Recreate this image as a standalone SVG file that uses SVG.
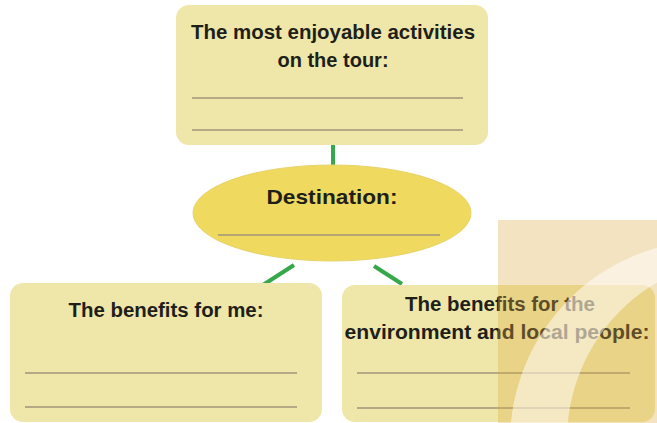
<svg xmlns="http://www.w3.org/2000/svg" width="657" height="423" viewBox="0 0 657 423">
  <style>
    .box { fill: #efe7a9; }
    .oval { fill: #efd95f; stroke: #e6d368; stroke-width: 1; }
    .lbl { font-family: "Liberation Sans", Arial, sans-serif; font-weight: bold; font-size: 20px; fill: #1f1f1a; text-anchor: middle; }
    .rule { stroke: #a09479; stroke-width: 1.5; }
    .link { stroke: #35a84a; stroke-width: 4; fill: none; }
  </style>
  <defs>
    <clipPath id="wmclip"><rect x="498" y="220" width="159" height="203"/></clipPath>
  </defs>
  <rect width="657" height="423" fill="#ffffff"/>

  <g id="connectors">
    <line class="link" x1="333" y1="144" x2="333" y2="167"/>
    <line class="link" x1="263" y1="285" x2="294" y2="265"/>
    <line class="link" x1="374" y1="266" x2="402" y2="284"/>
  </g>

  <g id="node-activities">
    <rect class="box" x="176" y="5" width="312" height="140" rx="13"/>
    <text class="lbl" x="333" y="39" textLength="284" lengthAdjust="spacingAndGlyphs">The most enjoyable activities</text>
    <text class="lbl" x="333" y="67">on the tour:</text>
    <line class="rule" x1="192" y1="98" x2="463" y2="98"/>
    <line class="rule" x1="192" y1="130" x2="463" y2="130"/>
  </g>

  <g id="node-destination">
    <ellipse class="oval" cx="332" cy="213" rx="139" ry="48"/>
    <text class="lbl" x="332" y="204" style="font-size:21px" textLength="131" lengthAdjust="spacingAndGlyphs">Destination:</text>
    <line class="rule" x1="218" y1="235" x2="440" y2="235"/>
  </g>

  <g id="node-benefits-me">
    <rect class="box" x="10" y="283" width="312" height="139" rx="13"/>
    <text class="lbl" x="166" y="317" textLength="195" lengthAdjust="spacingAndGlyphs">The benefits for me:</text>
    <line class="rule" x1="25" y1="373" x2="297" y2="373"/>
    <line class="rule" x1="25" y1="407" x2="297" y2="407"/>
  </g>

  <g id="node-benefits-env">
    <rect class="box" x="342" y="285" width="313" height="137" rx="13"/>
    <text class="lbl" x="500" y="311" textLength="190" lengthAdjust="spacingAndGlyphs">The benefits for the</text>
    <text class="lbl" x="497" y="339" textLength="305" lengthAdjust="spacingAndGlyphs">environment and local people:</text>
    <line class="rule" x1="357" y1="373" x2="630" y2="373"/>
    <line class="rule" x1="357" y1="408" x2="630" y2="408"/>
  </g>

  <g id="watermark" clip-path="url(#wmclip)">
    <rect x="498" y="220" width="159" height="203" fill="#dda942" opacity="0.33"/>
    <path d="M 914 442 A 202 202 0 1 0 510 442 A 202 202 0 1 0 914 442 Z M 933 440 A 183 183 0 1 1 567 440 A 183 183 0 1 1 933 440 Z" fill="#ffffff" fill-rule="evenodd" opacity="0.5"/>
  </g>
</svg>
